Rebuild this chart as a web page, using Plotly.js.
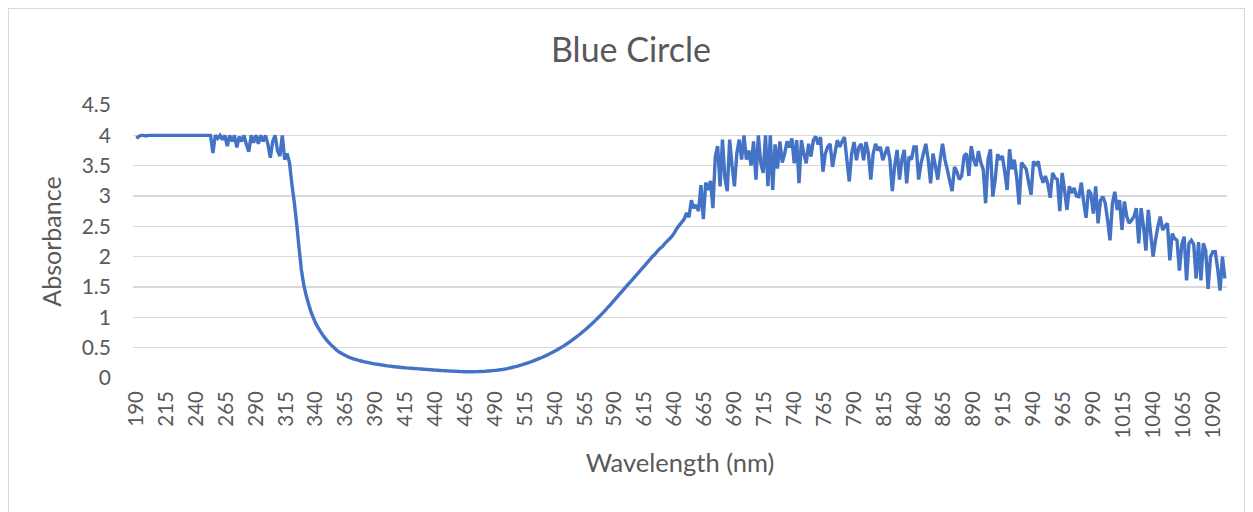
<!DOCTYPE html>
<html>
<head>
<meta charset="utf-8">
<script src="https://cdn.plot.ly/plotly-3.0.1.min.js"></script>
<style>
html,body{margin:0;padding:0;background:#ffffff;}
#chart{position:absolute;left:0;top:0;width:1253px;height:512px;}
#frame{position:absolute;left:8px;top:8px;width:1237px;height:520px;border:1px solid #d9d9d9;box-sizing:border-box;pointer-events:none;}
</style>
</head>
<body>
<div id="chart"></div>
<div id="frame"></div>
<script>
// Wavelength grid (nm): 190 .. 1100, every 2 nm
const startNm = 190;
const stepNm = 2;

// Absorbance, segment by segment
const uvPlateau = [ // 190-250
  3.95,3.98,4,4,3.99,4,4,4,4,4,4,4,4,4,4,4,4,4,4,4,4,4,4,4,4,4,4,4,4,4,4
];
const uvNoisy = [ // 252-318
  4,3.71,4,3.95,4,3.93,4,3.82,4,3.9,
  4,3.8,3.98,3.9,4,3.85,3.73,4,3.88,4,
  3.86,4,3.9,4,3.85,3.63,3.9,4,3.75,3.66,
  4,3.6,3.7,3.55
];
const uvEdge = [ // 320-470
  3.2,2.9,2.55,2.15,1.78,1.53,1.36,1.22,1.09,0.99,
  0.9,0.83,0.765,0.705,0.652,0.605,0.562,0.522,0.485,0.452,
  0.424,0.4,0.378,0.358,0.341,0.326,0.313,0.301,0.29,0.28,
  0.27,0.262,0.254,0.246,0.238,0.23,0.224,0.218,0.212,0.206,
  0.2,0.195,0.19,0.186,0.182,0.178,0.174,0.17,0.166,0.163,
  0.16,0.157,0.154,0.151,0.148,0.145,0.142,0.139,0.136,0.133,
  0.13,0.127,0.124,0.121,0.119,0.117,0.115,0.113,0.111,0.109,
  0.107,0.105,0.104,0.103,0.103,0.103
];
const visibleRise = [ // 472-648
  0.104,0.105,0.106,0.108,0.11,0.112,0.115,0.118,0.122,0.126,
  0.13,0.135,0.14,0.147,0.155,0.164,0.173,0.183,0.193,0.204,
  0.215,0.227,0.24,0.254,0.268,0.283,0.298,0.314,0.33,0.347,
  0.365,0.384,0.403,0.423,0.444,0.466,0.489,0.513,0.538,0.564,
  0.591,0.619,0.648,0.678,0.709,0.741,0.774,0.808,0.843,0.879,
  0.916,0.954,0.993,1.033,1.074,1.116,1.159,1.203,1.247,1.292,
  1.337,1.382,1.427,1.472,1.517,1.562,1.607,1.652,1.697,1.742,
  1.787,1.832,1.877,1.922,1.967,2.012,2.05,2.1,2.14,2.17,
  2.22,2.26,2.3,2.34,2.4,2.47,2.52,2.57,2.62
];
const redPlateau = [ // 650-870
  2.72,2.65,2.93,2.80,2.85,2.75,3.18,2.62,3.22,3.10,
  3.25,2.80,3.65,3.82,3.16,3.93,3.30,3.08,3.93,3.50,
  3.16,3.70,3.93,3.60,4.00,3.60,3.75,3.50,3.90,3.27,
  4.00,3.55,3.38,4.00,3.16,4.00,3.10,3.85,3.45,3.90,
  3.55,3.70,3.90,3.80,3.95,3.54,3.92,3.21,3.92,3.70,
  3.54,3.86,3.65,3.92,3.98,3.85,3.97,3.40,3.70,3.81,
  3.86,3.48,3.70,3.92,3.81,3.90,3.97,3.60,3.24,3.70,
  3.89,3.59,3.80,3.86,3.59,3.89,3.70,3.27,3.70,3.86,
  3.75,3.81,3.59,3.70,3.81,3.60,3.08,3.50,3.76,3.27,
  3.60,3.76,3.21,3.65,3.60,3.81,3.81,3.27,3.54,3.70,
  3.86,3.60,3.21,3.70,3.50,3.27,3.60,3.86,3.60,3.43,
  3.25
];
const nirTail = [ // 872-1100
  3.08,3.48,3.40,3.27,3.33,3.66,3.70,3.33,3.82,3.60,
  3.49,3.74,3.55,3.44,2.88,3.60,3.77,2.99,3.27,3.69,
  3.60,3.66,3.40,3.10,3.77,3.44,3.60,3.30,2.86,3.55,
  3.50,3.44,3.22,3.02,3.57,3.50,3.57,3.35,3.22,3.33,
  3.20,2.97,3.38,3.30,3.27,2.75,3.38,3.10,2.77,3.16,
  3.05,3.13,3.00,2.99,3.22,2.90,2.64,3.10,3.04,2.71,
  3.16,2.55,2.93,2.99,2.88,2.60,2.27,2.88,3.07,2.77,
  2.93,2.44,2.91,2.66,2.55,2.60,2.66,2.80,2.22,2.80,
  2.50,2.10,2.77,2.38,2.00,2.27,2.49,2.66,2.44,2.50,
  2.55,1.94,2.38,2.30,2.27,1.77,2.20,2.33,1.61,2.22,
  2.27,2.20,1.64,2.24,1.61,2.22,2.10,1.47,2.00,2.08,
  2.08,1.80,1.44,2.00,1.64
];

const tickValues = [190,215,240,265,290,315,340,365,390,415,440,465,490,515,540,565,590,615,640,665,690,715,740,765,790,815,840,865,890,915,940,965,990,1015,1040,1065,1090];
const tickLabels = ["190","215","240","265","290","315","340","365","390","415","440","465","490","515","540","565","590","615","640","665","690","715","740","765","790","815","840","865","890","915","940","965","990","1015","1040","1065","1090"];

const absorbance = [].concat(uvPlateau, uvNoisy, uvEdge, visibleRise, redPlateau, nirTail);
const wavelength = absorbance.map((_, i) => startNm + i * stepNm);

const FONT = 'Lato, "Open Sans", "Liberation Sans", sans-serif';
const GREY = '#595959';

const trace = {
  x: wavelength,
  y: absorbance,
  type: 'scatter',
  mode: 'lines',
  line: {color: '#4472C4', width: 3.4, simplify: false},
  hoverinfo: 'x+y'
};

const layout = {
  width: 1253,
  height: 512,
  margin: {l: 133, r: 26, t: 105, b: 134, pad: 0},
  paper_bgcolor: 'rgba(0,0,0,0)',
  plot_bgcolor: 'rgba(0,0,0,0)',
  font: {family: FONT, color: GREY},
  showlegend: false,
  title: {
    text: 'Blue Circle',
    font: {family: FONT, size: 34, color: GREY},
    x: 631 / 1253, xref: 'container', xanchor: 'center',
    y: 1 - 50 / 512, yref: 'container', yanchor: 'middle'
  },
  xaxis: {
    range: [187.2, 1101.8],
    tickmode: 'array',
    tickvals: tickValues,
    ticktext: tickLabels,
    tickangle: -90,
    tickfont: {family: FONT, size: 20.5, color: GREY},
    ticks: '',
    ticklabelstandoff: 8,
    showgrid: false,
    zeroline: false,
    showline: false,
    automargin: false,
    title: {text: 'Wavelength (nm)', font: {family: FONT, size: 25.5, color: GREY}, standoff: 16}
  },
  yaxis: {
    range: [0, 4.5],
    tickmode: 'linear',
    tick0: 0,
    dtick: 0.5,
    tickfont: {family: FONT, size: 21, color: GREY},
    ticks: '',
    ticklabelstandoff: 21,
    showgrid: true,
    gridcolor: '#d9d9d9',
    gridwidth: 1.3,
    zeroline: false,
    showline: false,
    automargin: false,
    title: {text: 'Absorbance', font: {family: FONT, size: 25, color: GREY}, standoff: 12}
  }
};

Plotly.newPlot('chart', [trace], layout, {displayModeBar: false, staticPlot: true});
</script>
</body>
</html>
